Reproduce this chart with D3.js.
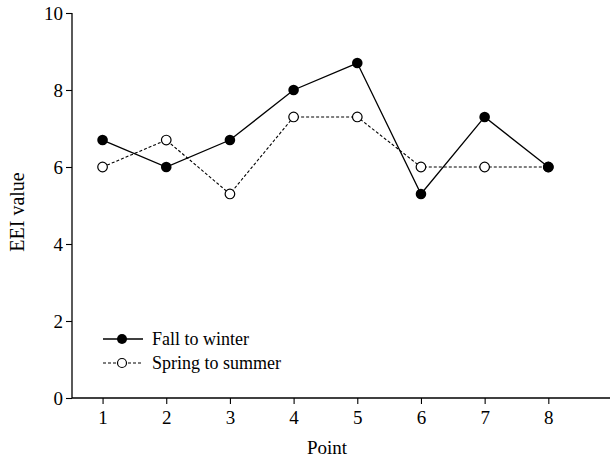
<!DOCTYPE html>
<html>
<head>
<meta charset="utf-8">
<script src="https://cdn.jsdelivr.net/npm/d3@7"></script>
<style>
  body { margin: 0; background: #fff; }
  text { font-family: "Liberation Serif", "Times New Roman", serif; fill: #000; }
</style>
</head>
<body>
<div id="chart"></div>
<script>
// data
const points = [1, 2, 3, 4, 5, 6, 7, 8];
const fallToWinter = [6.7, 6.0, 6.7, 8.0, 8.7, 5.3, 7.3, 6.0];
const springToSummer = [6.0, 6.7, 5.3, 7.3, 7.3, 6.0, 6.0, 6.0];
const yTicks = [0, 2, 4, 6, 8, 10];
const seriesNames = ["Fall to winter", "Spring to summer"];

const svgWidth = 610, svgHeight = 461;

const svg = d3.select("#chart").append("svg")
  .attr("width", svgWidth)
  .attr("height", svgHeight);

// scales
const xScale = d3.scaleLinear().domain([0.52, 9]).range([72, 612]);
const yScale = d3.scaleLinear().domain([0, 10]).range([398, 13]);

// axes
const leftAxis = d3.axisLeft(yScale).tickValues(yTicks).tickSize(6).tickPadding(3);
const bottomAxis = d3.axisBottom(xScale).tickValues(points).tickSize(6).tickPadding(7);

const yAxisG = svg.append("g")
  .attr("transform", "translate(72,0)")
  .call(leftAxis);
const xAxisG = svg.append("g")
  .attr("transform", "translate(0,398)")
  .call(bottomAxis);

[yAxisG, xAxisG].forEach(g => {
  g.attr("font-family", null).attr("font-size", null)
  g.select(".domain").attr("stroke", "#000").attr("stroke-width", 1.3)
  g.selectAll(".tick line").attr("stroke", "#000").attr("stroke-width", 1.1)
  g.selectAll(".tick text")
    .style("font-size", "19px")
    .attr("fill", "#000")
});
yAxisG.selectAll(".tick text").attr("dy", "0.34em");
// no outer ticks on the axis lines
yAxisG.select(".domain").attr("d", `M0,${yScale(10)}V${yScale(0)}`);
xAxisG.select(".domain").attr("d", `M72,0H610`);

// axis labels
svg.append("text")
  .attr("transform", "translate(24, 212) rotate(-90)")
  .attr("text-anchor", "middle")
  .style("font-size", "20px")
  .text("EEI value");

svg.append("text")
  .attr("x", 327)
  .attr("y", 454)
  .attr("text-anchor", "middle")
  .style("font-size", "19px")
  .text("Point");

// lines
const lineGen = d3.line()
  .x((d, i) => xScale(points[i]))
  .y(d => yScale(d));

svg.append("path")
  .datum(springToSummer)
  .attr("d", lineGen)
  .attr("fill", "none")
  .attr("stroke", "#000")
  .attr("stroke-width", 1.1)
  .attr("stroke-dasharray", "3,2");

svg.append("path")
  .datum(fallToWinter)
  .attr("d", lineGen)
  .attr("fill", "none")
  .attr("stroke", "#000")
  .attr("stroke-width", 1.3);

// markers
svg.selectAll("circle.spring")
  .data(springToSummer)
  .enter()
  .append("circle")
  .attr("class", "spring")
  .attr("cx", (d, i) => xScale(points[i]))
  .attr("cy", d => yScale(d))
  .attr("r", 4.8)
  .attr("fill", "#fff")
  .attr("stroke", "#000")
  .attr("stroke-width", 1.2);

svg.selectAll("circle.fall")
  .data(fallToWinter)
  .enter()
  .append("circle")
  .attr("class", "fall")
  .attr("cx", (d, i) => xScale(points[i]))
  .attr("cy", d => yScale(d))
  .attr("r", 5.3)
  .attr("fill", "#000");

// legend
const legend = svg.append("g");
seriesNames.forEach((name, i) => {
  const y = 339 + i * 24;
  legend.append("line")
    .attr("x1", 103).attr("x2", 143)
    .attr("y1", y).attr("y2", y)
    .attr("stroke", "#000")
    .attr("stroke-width", i === 0 ? 1.3 : 1.1)
    .attr("stroke-dasharray", i === 0 ? null : "3,2");
  legend.append("circle")
    .attr("cx", 122).attr("cy", y)
    .attr("r", i === 0 ? 5 : 4.5)
    .attr("fill", i === 0 ? "#000" : "#fff")
    .attr("stroke", "#000")
    .attr("stroke-width", i === 0 ? 0 : 1.2);
  legend.append("text")
    .attr("x", 152).attr("y", y + 6)
    .style("font-size", "18px")
    .text(name);
});
</script>
</body>
</html>
